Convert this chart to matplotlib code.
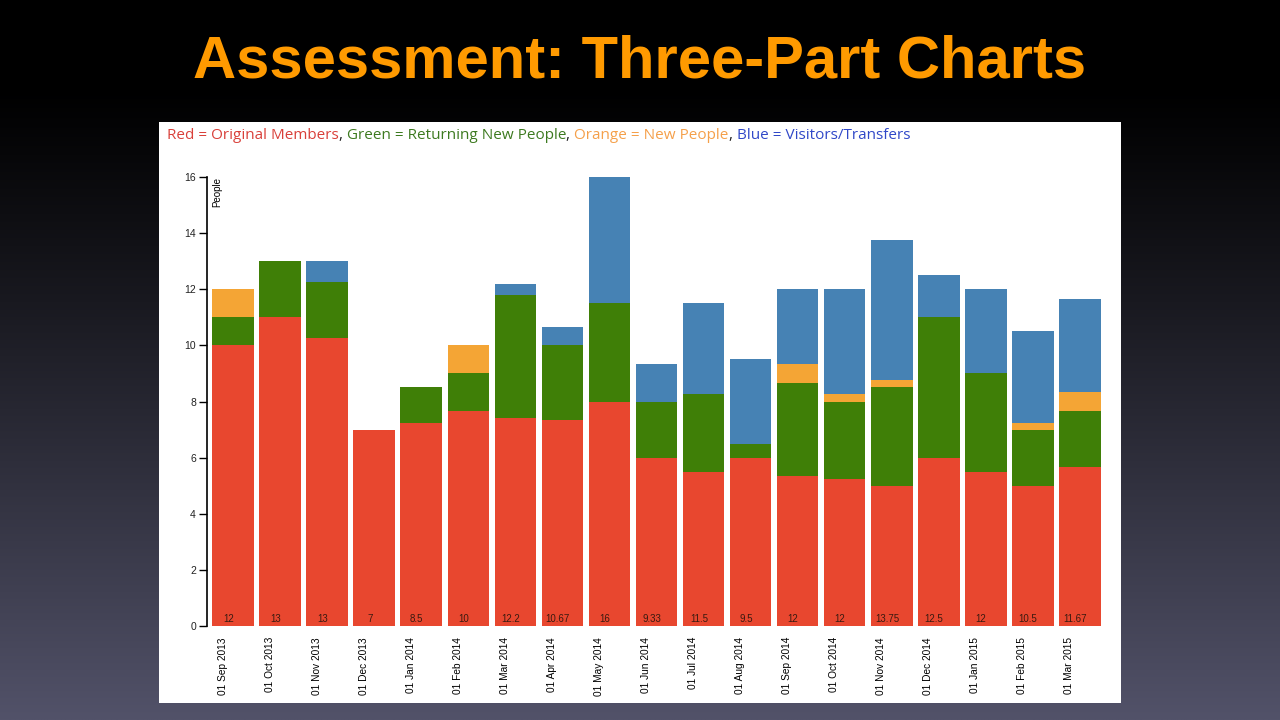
import numpy as np
import matplotlib
matplotlib.use("Agg")
import matplotlib.pyplot as plt
from matplotlib.patches import Rectangle
from matplotlib.text import Annotation

# ---- data ----
months = ["01 Sep 2013", "01 Oct 2013", "01 Nov 2013", "01 Dec 2013", "01 Jan 2014",
          "01 Feb 2014", "01 Mar 2014", "01 Apr 2014", "01 May 2014", "01 Jun 2014",
          "01 Jul 2014", "01 Aug 2014", "01 Sep 2014", "01 Oct 2014", "01 Nov 2014",
          "01 Dec 2014", "01 Jan 2015", "01 Feb 2015", "01 Mar 2015"]
red_original = [10, 11, 10.25, 7, 7.25, 7.67, 7.4, 7.33, 8, 6,
                5.5, 6, 5.33, 5.25, 5, 6, 5.5, 5, 5.67]
green_returning = [1, 2, 2, 0, 1.25, 1.33, 4.4, 2.67, 3.5, 2,
                   2.75, 0.5, 3.33, 2.75, 3.5, 5, 3.5, 2, 2]
orange_new = [1, 0, 0, 0, 0, 1, 0, 0, 0, 0,
              0, 0, 0.67, 0.25, 0.25, 0, 0, 0.25, 0.67]
blue_visitors = [0, 0, 0.75, 0, 0, 0, 0.4, 0.67, 4.5, 1.33,
                 3.25, 3, 2.67, 3.75, 5, 1.5, 3, 3.25, 3.33]
total_labels = ["12", "13", "13", "7", "8.5", "10", "12.2", "10.67", "16", "9.33",
                "11.5", "9.5", "12", "12", "13.75", "12.5", "12", "10.5", "11.67"]
yticks = [0, 2, 4, 6, 8, 10, 12, 14, 16]

C_RED = "#e8472f"
C_GREEN = "#3f7f07"
C_ORANGE = "#f4a535"
C_BLUE = "#4682b4"

fig = plt.figure(figsize=(12.8, 7.2), dpi=100)
W, H = 1280, 720

# gradient background
bg = fig.add_axes([0, 0, 1, 1], zorder=-10)
bg.set_axis_off()
t = np.linspace(0, 1, 400)
g = np.clip((t - 0.12) / 0.88, 0, 1) ** 1.1
top = np.array([0, 0, 0])
bot = np.array([0x52, 0x52, 0x69]) / 255
img = top[None, :] * (1 - g[:, None]) + bot[None, :] * g[:, None]
img = np.repeat(img[:, None, :], 10, axis=1)
bg.imshow(img, aspect="auto", extent=[0, 1, 0, 1], origin="upper")
bg.set_xlim(0, 1); bg.set_ylim(0, 1)

# white panel
fig.patches.append(Rectangle((159 / W, (H - 703) / H), (1121 - 159) / W, (703 - 122) / H,
                             transform=fig.transFigure, facecolor="white", edgecolor="none", zorder=-5))

# title
fig.text(0.5, (H - 62) / H, "Assessment: Three-Part Charts", ha="center", va="center",
         color="#ff9a00", fontsize=43, fontweight="bold", family="Liberation Sans")

# legend line (colored pieces)
pieces = [("Red = Original Members", "#d9403a"), (", ", "#222222"),
          ("Green = Returning New People", "#3d7a20"), (", ", "#222222"),
          ("Orange = New People", "#f5a04a"), (", ", "#222222"),
          ("Blue = Visitors/Transfers", "#3048c8")]
prev = fig.text(167 / W, (H - 139) / H, pieces[0][0], color=pieces[0][1], fontsize=10.95,
                family="Open Sans", ha="left", va="baseline", zorder=5)
for txt, col in pieces[1:]:
    ann = Annotation(txt, xy=(1, 0), xycoords=prev, ha="left", va="bottom", color=col,
                     fontsize=10.95, family="Open Sans", annotation_clip=False, zorder=5)
    fig.add_artist(ann)
    prev = ann

# chart axes
left_px, right_px, bot_px, top_px = 207, 1106, 626, 177
ax = fig.add_axes([left_px / W, (H - bot_px) / H, (right_px - left_px) / W, (bot_px - top_px) / H])
ax.set_facecolor("none")
x = np.arange(len(months))
w = 0.89
r = np.array(red_original); gr = np.array(green_returning)
o = np.array(orange_new); b = np.array(blue_visitors)
ax.bar(x, r, w, color=C_RED, linewidth=0)
ax.bar(x, gr, w, bottom=r, color=C_GREEN, linewidth=0)
ax.bar(x, o, w, bottom=r + gr, color=C_ORANGE, linewidth=0)
ax.bar(x, b, w, bottom=r + gr + o, color=C_BLUE, linewidth=0)

ax.set_xlim(-0.56, len(months) - 0.44)
ax.set_ylim(0, 16)
ax.set_yticks(yticks)
ax.set_yticklabels([str(v) for v in yticks], fontsize=7.5, family="Liberation Sans", color="#222222")
ax.tick_params(axis="y", length=6, width=1, pad=2, color="black")
for s in ["top", "right", "bottom"]:
    ax.spines[s].set_visible(False)
ax.spines["left"].set_linewidth(1.2)
ax.spines["left"].set_color("black")

ax.set_xticks([])
for i, lab in enumerate(total_labels):
    ax.text(x[i] - 0.1, 0.25, lab, ha="center", va="center", fontsize=7,
            color="#3a1a10", family="Liberation Sans")
for i, m in enumerate(months):
    ax.annotate(m, xy=(x[i] - 0.23, 0), xycoords="data", xytext=(0, -8),
                textcoords="offset points", rotation=90, ha="center", va="top",
                fontsize=7.3, color="black", family="Liberation Sans", annotation_clip=False)

ax.text(0.011, 1.0, "People", transform=ax.transAxes, rotation=90, ha="center", va="top",
        fontsize=7, color="black", family="Liberation Sans")

fig.savefig("out.png", dpi=100)
